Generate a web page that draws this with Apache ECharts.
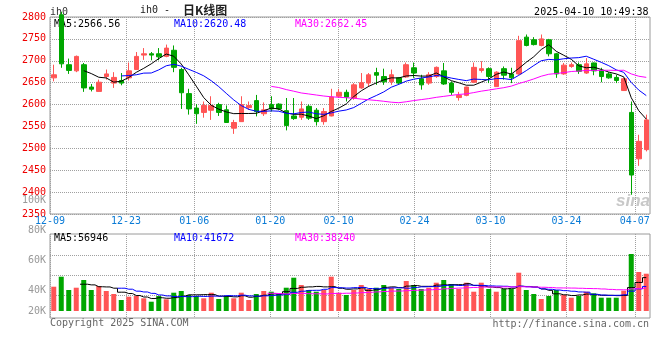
<!DOCTYPE html>
<html><head><meta charset="utf-8">
<script src="https://cdn.jsdelivr.net/npm/echarts@6/dist/echarts.min.js"></script>
<style>html,body{margin:0;padding:0;background:#fff}#c{width:660px;height:360px}</style>
</head><body><div id="c"></div>
<script>
// ---- data ----
const dates = ['12-09','12-10','12-11','12-12','12-13','12-16','12-17','12-18','12-19','12-20',
 '12-23','12-24','12-25','12-26','12-27','12-30','12-31','01-02','01-03','01-06',
 '01-07','01-08','01-09','01-10','01-13','01-14','01-15','01-16','01-17','01-20',
 '01-21','01-22','01-23','01-24','01-27','02-05','02-06','02-07','02-10','02-11',
 '02-12','02-13','02-14','02-17','02-18','02-19','02-20','02-21','02-24','02-25',
 '02-26','02-27','02-28','03-03','03-04','03-05','03-06','03-07','03-10','03-11',
 '03-12','03-13','03-14','03-17','03-18','03-19','03-20','03-21','03-24','03-25',
 '03-26','03-27','03-28','03-31','04-01','04-02','04-03','04-07','04-08','04-09'];
const labelDates = ['12-09','12-23','01-06','01-20','02-10','02-24','03-10','03-24','04-07'];

const opens = [2661,2805,2691,2677,2691,2640,2630,2664,2649,2655,
 2661,2680,2713,2716,2716,2710,2724,2680,2625,2592,
 2582,2587,2600,2588,2546,2561,2593,2609,2579,2600,
 2601,2586,2574,2571,2596,2587,2561,2574,2619,2628,
 2615,2638,2649,2673,2664,2652,2661,2663,2684,2659,
 2649,2664,2677,2649,2616,2621,2651,2678,2682,2641,
 2682,2670,2670,2754,2748,2735,2748,2716,2670,2687,
 2691,2672,2695,2678,2670,2662,2632,2582,2476,2497];
const closes = [2668,2693,2678,2710,2638,2635,2651,2670,2662,2649,
 2677,2710,2716,2713,2709,2729,2685,2627,2590,2579,
 2598,2598,2582,2559,2559,2600,2598,2584,2588,2590,
 2590,2552,2568,2590,2569,2561,2584,2617,2628,2617,
 2645,2650,2668,2667,2652,2668,2649,2691,2672,2645,
 2668,2685,2647,2628,2621,2640,2685,2682,2664,2674,
 2667,2661,2746,2735,2737,2750,2716,2670,2690,2691,
 2676,2693,2677,2664,2661,2655,2659,2439,2516,2565];
const lows = [2653,2684,2670,2674,2629,2630,2629,2657,2638,2644,
 2655,2679,2702,2701,2701,2708,2674,2590,2577,2556,
 2570,2565,2574,2558,2533,2561,2588,2573,2574,2584,
 2587,2541,2565,2565,2565,2552,2554,2573,2615,2607,
 2611,2636,2641,2645,2645,2645,2645,2661,2661,2634,
 2645,2661,2645,2622,2609,2619,2649,2673,2649,2641,
 2657,2649,2668,2733,2735,2733,2710,2661,2668,2684,
 2670,2670,2667,2651,2659,2649,2631,2394,2460,2493];
const highs = [2691,2812,2705,2712,2695,2647,2657,2680,2674,2672,
 2696,2720,2729,2720,2729,2737,2735,2684,2636,2601,
 2607,2619,2604,2598,2565,2619,2607,2622,2605,2619,
 2603,2615,2615,2607,2600,2592,2592,2636,2636,2634,
 2649,2672,2672,2684,2682,2680,2663,2696,2696,2668,
 2674,2687,2695,2653,2629,2641,2696,2699,2685,2676,
 2687,2684,2757,2760,2754,2760,2750,2718,2695,2696,
 2696,2706,2696,2684,2674,2668,2661,2607,2531,2577];

const ma5 = [null,null,null,null,2677.4,2670.8,2662.4,2660.8,2651.2,2653.4,
 2661.8,2673.6,2682.8,2693.0,2705.0,2715.4,2710.4,2692.6,2668.0,2642.0,
 2615.8,2598.4,2589.4,2583.2,2579.2,2579.6,2579.6,2580.0,2585.8,2592.0,
 2590.0,2580.8,2577.6,2578.0,2573.8,2568.0,2574.4,2584.2,2591.8,2601.4,
 2618.2,2631.4,2641.6,2649.4,2656.4,2661.0,2660.8,2665.4,2666.4,2665.0,
 2665.0,2672.2,2663.4,2654.6,2649.8,2644.2,2644.2,2651.2,2658.4,2669.0,
 2674.4,2669.6,2682.4,2696.6,2709.2,2725.8,2736.8,2721.6,2712.6,2703.4,
 2688.6,2684.0,2685.4,2680.2,2674.2,2670.0,2663.2,2615.6,2586.0,2566.8];
const ma10 = [null,null,null,null,null,null,null,null,null,2665.4,
 2666.3,2668.0,2671.8,2672.1,2679.2,2688.6,2692.0,2687.7,2680.5,2673.5,
 2665.6,2654.4,2641.0,2625.6,2610.6,2597.7,2589.0,2584.7,2584.5,2585.6,
 2584.8,2580.2,2578.8,2581.9,2582.9,2579.0,2577.6,2580.9,2584.9,2587.6,
 2593.1,2602.9,2612.9,2620.6,2628.9,2639.6,2646.1,2653.5,2657.9,2660.7,
 2663.0,2666.5,2664.4,2660.5,2657.4,2654.6,2658.2,2657.3,2656.5,2659.4,
 2659.3,2656.9,2666.8,2677.5,2689.1,2700.1,2703.2,2702.0,2704.6,2706.3,
 2707.2,2710.4,2703.5,2696.4,2688.8,2679.3,2673.6,2650.5,2633.1,2620.5];
const ma30 = [null,null,null,null,null,null,null,null,null,null,
 null,null,null,null,null,null,null,null,null,null,
 null,null,null,null,null,null,null,null,null,2641.5,
 2638.9,2634.2,2630.5,2626.5,2624.2,2621.8,2619.5,2617.8,2616.6,2615.6,
 2614.5,2612.5,2610.9,2609.4,2607.5,2605.4,2604.2,2606.4,2609.1,2611.3,
 2613.6,2616.5,2618.7,2621.0,2623.1,2624.4,2627.3,2630.6,2633.1,2635.9,
 2638.5,2642.1,2648.0,2652.9,2658.5,2664.8,2669.2,2670.9,2673.0,2675.5,
 2676.5,2677.9,2678.2,2678.1,2678.4,2678.0,2678.3,2670.0,2664.7,2662.1];

const volumes = [41300,58300,35700,39600,52700,35700,42500,34000,28900,18700,
 24300,25500,21600,15800,25500,19900,31100,34000,27200,25500,
 21600,31100,20400,25500,21600,31100,18700,28900,34000,32800,
 28900,39600,56600,44200,35700,32800,35700,58300,31100,27200,
 35700,44200,37400,39600,44200,39600,37400,51000,44200,37400,
 39600,48100,52700,45900,37400,48100,32800,48100,37400,32800,
 37400,37400,65100,35700,28900,20400,25500,35700,27200,22600,
 25500,32800,30100,22600,22600,22600,34500,96900,66300,63400];
const vma5 = [null,null,null,null,45520,44400,41240,40900,38760,31960,
 29680,26280,23800,21180,22540,21660,22780,25260,27540,27540,
 27880,27880,25160,24820,24040,25940,23460,25160,26860,29100,
 28660,32840,38380,40420,41000,41780,41000,41340,38720,37020,
 37600,39300,35120,36820,40220,41000,39640,42360,43280,41920,
 41920,44060,44400,44740,44740,46440,43380,42460,40760,39840,
 37700,38620,42020,41680,40900,37500,35120,29240,27540,26280,
 27300,28760,27640,26720,26720,26140,26480,39840,48580,56740];
const vma10 = [null,null,null,null,null,null,null,null,null,38740,
 37040,33760,32350,29970,27250,25670,24530,24530,24360,25040,
 24770,25330,25210,26180,25790,26910,25670,25160,25840,26570,
 27300,28150,31770,33640,35050,35220,36920,39860,39570,39010,
 39690,40150,38230,37770,38620,39300,39470,38740,40050,41070,
 41460,41850,43380,44010,43330,44180,43720,43430,42750,42290,
 42070,41000,42240,41220,40370,37600,36870,35630,34610,33590,
 32400,31940,28440,27130,26500,26720,27620,33740,37650,41730];
const vma30 = [null,null,null,null,null,null,null,null,null,null,
 null,null,null,null,null,null,null,null,null,null,
 null,null,null,null,null,null,null,null,null,30120,
 29700,29080,29780,29930,29360,29270,29040,29850,29920,30210,
 30590,31210,31740,32530,33150,33810,34020,34590,35150,35550,
 36150,36720,37790,38470,39000,39570,40040,40680,40790,40790,
 41070,41000,41280,41000,40770,40360,40020,39270,39140,38980,
 38640,38260,38020,37450,36730,36170,36070,37600,38340,39200];

const maNames = ['MA5','MA10','MA30'];
const priceMALast = ['2566.56','2620.48','2662.45'];
const volMALast = ['56946','41672','38240'];
const priceMin = 2350, priceMax = 2800, priceStep = 50;
const volMin = -11900, volMax = 130900;          // volume axis extent
const volGridValues = [27200, 61200, 95200];     // dotted guide levels in the volume panel
const volLabelMin = 20000, volLabelMax = 100000, volLabelStep = 20000;
const titleText = ['ih0 - ', '日K线图'];
const symbolText = 'ih0';
const timeText = '2025-04-10 10:49:38';
const copyText = 'Copyright 2025 SINA.COM';
const urlText = 'http://finance.sina.com.cn';

// ---- chart ----
const MONO = '"DejaVu Sans Mono", monospace';
const UP = '#ff5555', DOWN = '#00a600';
const MA_COLORS = ['#000000', '#0000ff', '#ff00ff'];
const GRIDLINE = {type: 'dotted', color: '#a0a0a0', width: 1};
const labelSet = new Set(labelDates);
const showDate = (idx, val) => labelSet.has(val);

const candleData = opens.map((o, i) => [o, closes[i], lows[i], highs[i]]);

const chart = echarts.init(document.getElementById('c'), null, {renderer: 'canvas', width: 660, height: 360});

function txt(x, y, text, fill, align, font) {
  return {type: 'text', x: x, y: y, silent: true,
    style: {text: text, fill: fill, font: font || ('10px ' + MONO),
      align: align || 'left', verticalAlign: 'middle', textAlign: align || 'left', textVerticalAlign: 'middle'}};
}

const graphics = [
  txt(50, 12.5, symbolText, '#333'),
  {type: 'text', x: 140, y: 10.5, silent: true, style: {
     text: '{a|' + titleText[0] + '}{b|' + titleText[1] + '}',
     align: 'left', verticalAlign: 'middle', textAlign: 'left', textVerticalAlign: 'middle',
     rich: {a: {font: '10px ' + MONO, fill: '#222'},
            b: {font: 'bold 12px "Noto Sans CJK SC"', fill: '#222', padding: [0, 0, 0, 7]}}}},
  txt(648.5, 12.3, timeText, '#000', 'right'),
  txt(54, 24, maNames[0] + ':' + priceMALast[0], MA_COLORS[0]),
  txt(174, 24, maNames[1] + ':' + priceMALast[1], MA_COLORS[1]),
  txt(295, 24, maNames[2] + ':' + priceMALast[2], MA_COLORS[2]),
  txt(54, 238.5, maNames[0] + ':' + volMALast[0], MA_COLORS[0]),
  txt(174, 238.5, maNames[1] + ':' + volMALast[1], MA_COLORS[1]),
  txt(295, 238.5, maNames[2] + ':' + volMALast[2], MA_COLORS[2]),
  txt(50, 323.5, copyText, '#666'),
  txt(649, 324, urlText, '#666', 'right'),
  txt(650, 201, 'sina', '#c8c8c8', 'right', 'italic bold 17px "Liberation Sans"')
];

function maLine(data, color, xi, yi, step) {
  return {type: 'line', data: data, xAxisIndex: xi, yAxisIndex: yi, symbol: 'none',
    step: step || false, connectNulls: false, silent: true, z: 3,
    lineStyle: {color: color, width: 1}};
}

const option = {
  animation: false,
  backgroundColor: '#ffffff',
  textStyle: {fontFamily: MONO},
  grid: [
    {left: 50, top: 17, width: 600, height: 197, show: true, borderColor: '#9a9a9a', borderWidth: 1, backgroundColor: 'transparent'},
    {left: 50, top: 234, width: 600, height: 84, show: true, borderColor: '#9a9a9a', borderWidth: 1, backgroundColor: 'transparent'},
    {left: 50, top: 200, width: 600, height: 121, show: false}
  ],
  xAxis: [
    {type: 'category', gridIndex: 0, data: dates, boundaryGap: true, show: false},
    {type: 'category', gridIndex: 0, data: dates, boundaryGap: false, position: 'bottom',
      axisLine: {show: false}, axisTick: {show: false},
      axisLabel: {interval: showDate, color: '#0a7bd6', fontFamily: MONO, fontSize: 10, margin: 2},
      splitLine: {show: true, interval: showDate, lineStyle: GRIDLINE}},
    {type: 'category', gridIndex: 1, data: dates, boundaryGap: true, show: false},
    {type: 'category', gridIndex: 1, data: dates, boundaryGap: false,
      axisLine: {show: false}, axisTick: {show: false}, axisLabel: {show: false},
      splitLine: {show: true, interval: showDate, lineStyle: GRIDLINE}},
    {type: 'value', gridIndex: 2, show: false, min: 0, max: 1}
  ],
  yAxis: [
    {type: 'value', gridIndex: 0, min: priceMin, max: priceMax, interval: priceStep,
      axisLine: {show: false}, axisTick: {show: false},
      axisLabel: {color: '#ee0000', fontFamily: MONO, fontSize: 10, margin: 4, padding: [0, 0, 4, 0],
        formatter: v => String(v)},
      splitLine: {show: true, lineStyle: GRIDLINE}},
    {type: 'value', gridIndex: 1, min: volMin, max: volMax,
      axisLine: {show: false}, axisTick: {show: false}, axisLabel: {show: false}, splitLine: {show: false}},
    {type: 'value', gridIndex: 2, min: volLabelMin, max: volLabelMax, interval: volLabelStep,
      axisLine: {show: false}, axisTick: {show: false}, splitLine: {show: false},
      axisLabel: {color: '#999999', fontFamily: MONO, fontSize: 10, margin: 4,
        formatter: v => v === volLabelMin ? '{lo|' + (v / 1000) + 'K}' : (v / 1000) + 'K',
        rich: {lo: {color: '#999999', fontFamily: MONO, fontSize: 10, padding: [0, 0, 20, 0]}}}}
  ],
  series: [
    {type: 'candlestick', xAxisIndex: 0, yAxisIndex: 0, data: candleData, barWidth: 5, clip: true, silent: true,
      itemStyle: {color: UP, color0: DOWN, borderColor: UP, borderColor0: DOWN, borderWidth: 1}},
    maLine(ma5, MA_COLORS[0], 0, 0),
    maLine(ma10, MA_COLORS[1], 0, 0),
    maLine(ma30, MA_COLORS[2], 0, 0),
    {type: 'bar', xAxisIndex: 2, yAxisIndex: 1, data: volumes, barWidth: 5, silent: true,
      itemStyle: {color: p => closes[p.dataIndex] >= opens[p.dataIndex] ? UP : DOWN},
      markLine: {silent: true, z: 1, symbol: ['none', 'none'], label: {show: false},
        lineStyle: GRIDLINE, animation: false, data: volGridValues.map(v => ({yAxis: v}))}},
    maLine(vma5, MA_COLORS[0], 2, 1, 'middle'),
    maLine(vma10, MA_COLORS[1], 2, 1, 'middle'),
    maLine(vma30, MA_COLORS[2], 2, 1, 'middle')
  ],
  graphic: graphics
};
chart.setOption(option);
</script>
</body></html>
